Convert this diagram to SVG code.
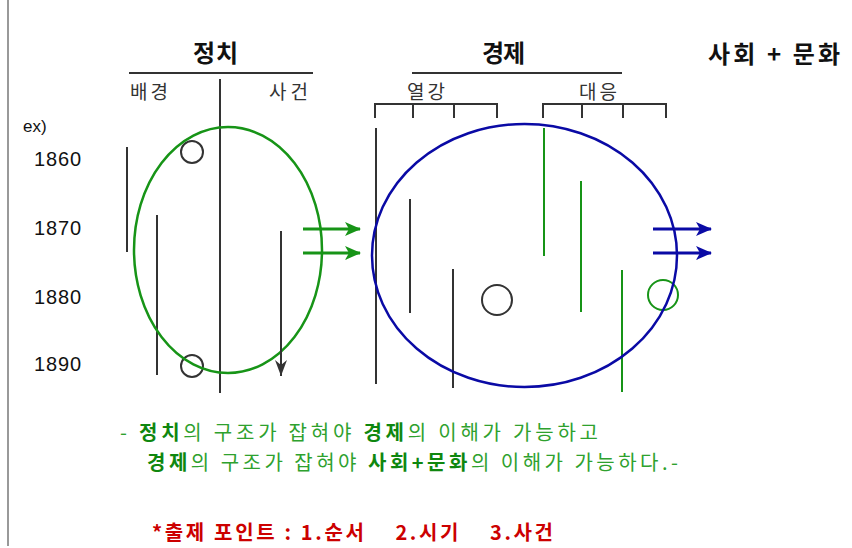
<svg xmlns="http://www.w3.org/2000/svg" width="852" height="548" viewBox="0 0 852 548">
<style>
.k{font-family:"Noto Sans CJK KR","Noto Sans",sans-serif;}
.n{font-family:"Liberation Sans","Noto Sans",sans-serif;}
.t{font-size:24px;font-weight:bold;fill:#111;}
.l{font-size:19px;fill:#333;}
.y{font-size:20px;fill:#111;}
.dk{stroke:#333;stroke-width:2;fill:none;}
.gn{stroke:#179417;stroke-width:2;fill:none;}
.g{font-size:20px;fill:#2ea12e;}
.gb{font-weight:bold;fill:#0f870f;}
.r{font-size:20px;fill:#cc0000;font-weight:bold;}
</style>
<defs>
<marker id="ab" markerWidth="12" markerHeight="16" refX="6" refY="16" orient="0" markerUnits="userSpaceOnUse" viewBox="0 0 12 16"><path d="M0,0 L6,5 L12,0 L6,16 Z" fill="#333"/></marker>
<marker id="ag" markerWidth="16" markerHeight="14" refX="15" refY="7" orient="auto" markerUnits="userSpaceOnUse" viewBox="0 0 16 14"><path d="M0,0 L16,7 L0,14 L4,7 Z" fill="#179417"/></marker>
<marker id="abl" markerWidth="16" markerHeight="14" refX="15" refY="7" orient="auto" markerUnits="userSpaceOnUse" viewBox="0 0 16 14"><path d="M0,0 L16,7 L0,14 L4,7 Z" fill="#0a0aa5"/></marker>
</defs>
<rect width="852" height="548" fill="#fff"/>
<line x1="8" y1="0" x2="8" y2="546" stroke="#777" stroke-width="1.5"/>

<g id="header-politics">
<text class="k t" x="193" y="62" textLength="45" lengthAdjust="spacing">정치</text>
<line class="dk" x1="129" y1="73" x2="313" y2="73"/>
<text class="k l" x="130" y="99" textLength="38" lengthAdjust="spacing">배경</text>
<text class="k l" x="269" y="99" textLength="39" lengthAdjust="spacing">사건</text>
</g>
<g id="header-economy">
<text class="k t" x="482" y="62" textLength="43" lengthAdjust="spacing">경제</text>
<line class="dk" x1="412" y1="73" x2="622" y2="73"/>
<text class="k l" x="407" y="99" textLength="38" lengthAdjust="spacing">열강</text>
<text class="k l" x="579" y="99" textLength="38" lengthAdjust="spacing">대응</text>
<path class="dk" d="M375,118 V104 H497 V118 M413,104 V118 M454,104 V118"/>
<path class="dk" d="M543,118 V104 H666 V118 M582,104 V118 M623,104 V118"/>
</g>
<g id="header-society">
<text class="k t" x="708" y="63" textLength="132" lengthAdjust="spacing">사회 + 문화</text>
</g>

<g id="years">
<text class="n" x="23" y="132" font-size="17" fill="#111">ex)</text>
<text class="n y" x="34" y="166" textLength="47" lengthAdjust="spacing">1860</text>
<text class="n y" x="34" y="235" textLength="47" lengthAdjust="spacing">1870</text>
<text class="n y" x="34" y="304" textLength="47" lengthAdjust="spacing">1880</text>
<text class="n y" x="34" y="371" textLength="47" lengthAdjust="spacing">1890</text>
</g>

<g id="politics-timeline">
<line class="dk" x1="127" y1="147" x2="127" y2="252"/>
<line class="dk" x1="157" y1="215" x2="157" y2="375"/>
<line class="dk" x1="220" y1="79" x2="220" y2="393"/>
<circle class="dk" cx="192" cy="152" r="11" stroke-width="1.5"/>
<circle class="dk" cx="192" cy="366" r="11" stroke-width="1.5"/>
<ellipse cx="228" cy="250" rx="94" ry="123" fill="none" stroke="#179417" stroke-width="2.5"/>
</g>

<g id="economy-timeline">
<line class="dk" x1="376" y1="128" x2="376" y2="384"/>
<line class="dk" x1="410" y1="199" x2="410" y2="313"/>
<line class="dk" x1="453" y1="269" x2="453" y2="388"/>
<circle class="dk" cx="497" cy="300" r="15" stroke-width="1.8"/>
<line class="gn" x1="544" y1="128" x2="544" y2="256"/>
<line class="gn" x1="581" y1="181" x2="581" y2="312"/>
<line class="gn" x1="622" y1="270" x2="622" y2="392"/>
<circle class="gn" cx="663" cy="295" r="15"/>
<ellipse cx="524.5" cy="255.5" rx="152.5" ry="131.5" fill="none" stroke="#0a0aa5" stroke-width="2.5"/>
</g>

<g id="connectors">
<line x1="281" y1="231" x2="281" y2="376" stroke="#333" stroke-width="2" marker-end="url(#ab)"/>
<line x1="303" y1="229" x2="360" y2="229" stroke="#179417" stroke-width="3" marker-end="url(#ag)"/>
<line x1="303" y1="253" x2="360" y2="253" stroke="#179417" stroke-width="3" marker-end="url(#ag)"/>
<line x1="653" y1="229" x2="711" y2="229" stroke="#0a0aa5" stroke-width="3" marker-end="url(#abl)"/>
<line x1="653" y1="253" x2="711" y2="253" stroke="#0a0aa5" stroke-width="3" marker-end="url(#abl)"/>
</g>

<g id="note">
<text class="k g" x="120" y="440" textLength="478" lengthAdjust="spacing">- <tspan class="gb">정치</tspan>의 구조가 잡혀야 <tspan class="gb">경제</tspan>의 이해가 가능하고</text>
<text class="k g" x="147" y="470" textLength="531" lengthAdjust="spacing"><tspan class="gb">경제</tspan>의 구조가 잡혀야 <tspan class="gb">사회+문화</tspan>의 이해가 가능하다.-</text>
</g>
<g id="points">
<text class="k r" x="152" y="540" textLength="401" lengthAdjust="spacing" xml:space="preserve">*출제 포인트 : 1.순서    2.시기    3.사건</text>
</g>
</svg>
